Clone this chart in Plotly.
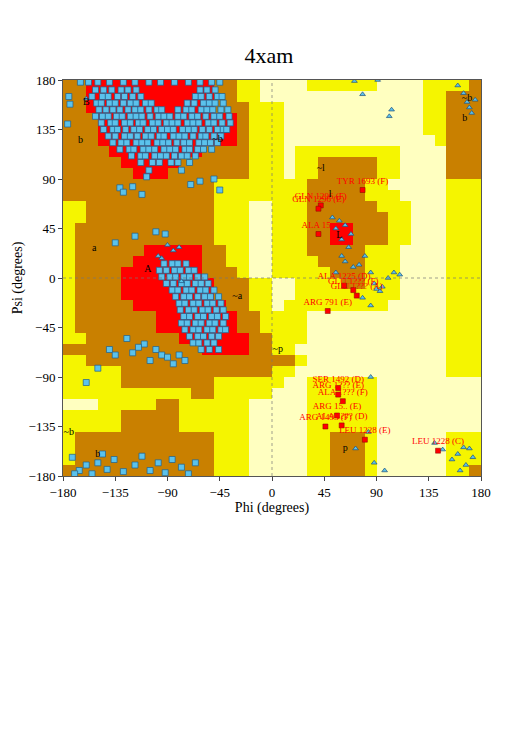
import plotly.graph_objects as go

# Region map, 10-degree cells, rows from psi 180 (top) to -180; P pale, Y yellow, B brown, R red
region_rows = [
    "BB"+"R"*11+"BB"+"YY"+"PPPP"+"YYYYYY"+"PPPP"+"YYYY"+"B",
    "BB"+"R"*11+"BB"+"YY"+"P"*14+"YY"+"BBB",
    "BB"+"R"*11+"BBB"+"YYY"+"P"*12+"YY"+"BBB",
    "BBB"+"R"*12+"B"+"YYY"+"P"*12+"YY"+"BBB",
    "BBB"+"R"*12+"B"+"YYY"+"P"*12+"YY"+"BBB",
    "BBB"+"R"*12+"B"+"YYY"+"P"*13+"Y"+"BBB",
    "BBBB"+"R"*8+"BBBB"+"YYY"+"P"+"Y"*9+"P"*4+"BBB",
    "BBBBB"+"R"*5+"B"*6+"YYY"+"P"+"YY"+"B"*5+"YY"+"P"*4+"BBB",
    "B"*6+"RRR"+"B"*7+"YYY"+"P"+"YY"+"B"*5+"YY"+"P"*4+"BBB",
    "B"*13+"Y"*7+"Y"+"B"*5+"YY"+"P"*5+"YYY",
    "B"*13+"Y"*7+"Y"+"B"*5+"YYY"+"P"*4+"YYY",
    "YY"+"B"*11+"YYY"+"PP"+"YYY"+"B"*6+"YYY"+"PPP"+"YYY",
    "YY"+"B"*11+"YYY"+"PP"+"YYY"+"B"*7+"YY"+"PPP"+"YYY",
    "Y"+"B"*12+"YYY"+"PP"+"YYY"+"BB"+"RR"+"BBB"+"YY"+"PPP"+"YYY",
    "Y"+"B"*12+"YYY"+"PP"+"YYY"+"BB"+"RR"+"BBB"+"YY"+"PPP"+"YYY",
    "Y"+"B"*6+"R"*5+"BB"+"YY"+"PP"+"YYY"+"B"*5+"YYY"+"P"*4+"YYY",
    "Y"+"B"*5+"R"*6+"BB"+"YY"+"PP"+"YYYY"+"B"*4+"YYY"+"P"*4+"YYY",
    "Y"+"B"*4+"R"*7+"BBB"+"Y"+"PP"+"YYYYY"+"BBB"+"YYY"+"P"*4+"YYY",
    "Y"+"BBBB"+"R"*8+"BBB"+"YY"+"PP"+"YYYY"+"BB"+"YYY"+"P"*4+"YYY",
    "Y"+"BBBB"+"R"*8+"BBB"+"YY"+"PP"+"Y"*9+"P"*4+"YYY",
    "Y"+"BBBBB"+"R"*8+"BB"+"YY"+"P"+"Y"*9+"P"*5+"YYY",
    "Y"+"B"*7+"R"*7+"BB"+"YYYY"+"P"*12+"YYY",
    "Y"+"B"*7+"R"*7+"BB"+"YYYY"+"P"*12+"YYY",
    "YY"+"B"*8+"R"*6+"BB"+"YYY"+"P"*12+"YYY",
    "B"*12+"R"*4+"BB"+"YY"+"P"*13+"YYY",
    "YY"+"B"*18+"Y"+"P"*12+"YYY",
    "Y"*5+"B"*13+"YY"+"P"*13+"YYY",
    "Y"*5+"B"*8+"Y"*6+"PP"+"Y"*6+"P"*9,
    "Y"*11+"BB"+"Y"*5+"PPP"+"Y"*6+"P"*9,
    "PPP"+"Y"*5+"BB"+"Y"*6+"P"*5+"Y"*6+"P"*9,
    "Y"*5+"B"*5+"Y"*6+"P"*5+"Y"*6+"P"*9,
    "Y"*5+"B"*5+"Y"*6+"P"*5+"Y"*6+"P"*9,
    "Y"+"B"*12+"YYY"+"P"*5+"YY"+"BBB"+"Y"+"P"*6+"YYY",
    "Y"+"B"*12+"YYY"+"P"*5+"YY"+"BBB"+"Y"+"P"*6+"YYY",
    "Y"+"B"*12+"YYY"+"P"*5+"YY"+"BBB"+"Y"+"P"*6+"YYY",
    "B"*13+"YYY"+"P"*5+"YY"+"BBB"+"Y"+"P"*6+"YY"+"B",
]
cell_phi = [-175 + 10*i for i in range(36)]
cell_psi = [175 - 10*i for i in range(36)]
code = {"P": 0, "Y": 1, "B": 2, "R": 3}
z = [[code[c] for c in row] for row in region_rows]

# Non-Gly residues (phi lists per psi row)
beta_rows = {
    178: [-165,-158,-150,-140,-128,-118,-106,-96,-84,-72,-62,-52,-45],
    171: [-152,-145,-138,-130,-124,-117,-62,-56,-49],
    165: [-155,-146,-141,-133,-127,-120,-113,-66,-61,-54,-47,-43],
    159: [-151,-147,-140,-135,-128,-122,-117,-109,-104,-73,-67,-59,-54,-49,-42],
    153: [-149,-143,-137,-131,-124,-118,-113,-106,-99,-95,-81,-74,-69,-61,-56,-51,-44,-38],
    147: [-152,-146,-141,-134,-129,-122,-117,-112,-105,-98,-93,-88,-81,-76,-69,-64,-57,-50,-45,-37],
    141: [-147,-139,-135,-127,-122,-115,-111,-103,-98,-91,-86,-81,-73,-68,-63,-55,-50,-43,-36],
    135: [-145,-137,-133,-126,-119,-114,-107,-102,-95,-90,-85,-77,-72,-67,-60,-54,-47,-42,-39],
    129: [-141,-135,-127,-122,-116,-109,-104,-97,-93,-85,-80,-75,-68,-61,-57,-50,-44],
    123: [-137,-130,-125,-117,-112,-107,-99,-94,-89,-82,-76,-71,-63,-58,-53,-47],
    117: [-131,-123,-119,-111,-106,-101,-93,-88,-83,-75,-71,-64,-59,-52],
    111: [-121,-113,-109,-101,-96,-91,-84,-78,-73,-66],
    105: [-113,-103,-97,-87,-81,-71],
    98: [-106,-78],
}
alpha_rows = {
    13: [-93,-86,-81,-74],
    7: [-97,-91,-84,-79,-72,-67],
    1: [-95,-88,-83,-76,-71,-64,-58],
    -5: [-91,-85,-78,-73,-66,-61,-55],
    -11: [-86,-81,-74,-69,-62,-57,-50],
    -17: [-83,-76,-71,-64,-58,-53,-46],
    -23: [-80,-75,-68,-63,-56,-51,-44],
    -29: [-79,-72,-67,-60,-55,-48,-42],
    -35: [-76,-71,-64,-59,-52,-47,-40],
    -41: [-78,-73,-66,-61,-54,-49,-42],
    -47: [-75,-68,-63,-56,-51,-44,-40],
    -53: [-71,-64,-59,-52,-46],
    -59: [-68,-63,-56,-50],
    -65: [-61,-54,-46],
}
scatter_phi = [-175,-174,-176,-120,-112,-131,-128,-108,-70,-62,-50,-45,-100,-92,-118,-135,
               -110,-115,-125,-100,-95,-105,-90,-80,-85,-75,-140,-135,-120,-150,-160,
               -172,-166,-160,-155,-150,-142,-136,-128,-118,-112,-105,-98,-92,-86,-78,-72,-66,-170,-146]
scatter_psi = [165,158,140,83,76,82,78,92,85,88,90,80,42,40,38,32,
               -60,-63,-55,-65,-70,-75,-72,-70,-78,-75,-65,-70,-68,-82,-95,
               -163,-175,-170,-178,-168,-174,-165,-176,-170,-162,-175,-168,-177,-165,-172,-178,-168,-178,-160]
gen_phi = []
gen_psi = []
for rows in (beta_rows, alpha_rows):
    for ps, phis in rows.items():
        gen_phi += phis
        gen_psi += [ps]*len(phis)
gen_phi += scatter_phi
gen_psi += scatter_psi

# Glycines (triangles)
gly_phi = [71,91,78,103,101,160,165,168,175,172,170,52,58,63,55,68,60,66,60,63,70,55,75,80,85,88,90,93,78,85,95,
           100,105,110,85,83,88,97,72,140,147,160,165,170,173,155,162,167,-95,-98,-90,-85,-80,-160,-78]
gly_psi = [179,180,167,153,147,175,168,160,162,150,155,55,52,48,45,40,35,28,20,15,10,5,12,20,5,-5,-10,-12,-18,-25,-8,
           0,5,3,-90,-140,-168,-175,-155,-150,-156,-160,-154,-155,-163,-165,-175,-170,18,20,30,25,28,163,-3]

# Outliers (red squares with labels)
out_phi = [78,42,40,40,62,70,73,48,57,57,61,56,46,60,80,143]
out_psi = [80,66,63,40,-7,-11,-16,-30,-100,-106,-112,-125,-135,-134,-147,-157]
out_lab = ["TYR 1693 (F)","GLN 1296 (F)","GLN 1296 (E)","ALA 15..","ALA 1225 (D)","GLU 1??? (F)","GLU 1??? (A)",
           "ARG 791 (E)","SER 1492 (D)","ARG 1??? (E)","ALA 1??? (F)","ARG 15.. (E)","ARG 1493 (F)","ALA 1??? (D)",
           "LEU 1228 (E)","LEU 1228 (C)"]

region_labels = ["B","b","~b","~b","a","A","~a","l","~l","L","~b","b","p","b","~p"]
region_lab_phi = [-160,-165,-47,168,-153,-107,-30,50,42,58,-175,-150,63,166,5]
region_lab_psi = [160,125,126,163,27,8,-17,76,100,39,-140,-160,-155,145,-65]

fig = go.Figure()
fig.add_trace(go.Heatmap(x=cell_phi, y=cell_psi, z=z, zmin=0, zmax=3, showscale=False, hoverinfo="skip",
    colorscale=[[0,"#ffffc0"],[0.25,"#ffffc0"],[0.25,"#f5f500"],[0.5,"#f5f500"],
                [0.5,"#c98000"],[0.75,"#c98000"],[0.75,"#ff0000"],[1,"#ff0000"]]))
fig.add_trace(go.Scatter(x=gen_phi, y=gen_psi, mode="markers",
    marker=dict(symbol="square", size=6, color="#5bc2ec", line=dict(color="#1f5f8a", width=0.7))))
fig.add_trace(go.Scatter(x=gly_phi, y=gly_psi, mode="markers",
    marker=dict(symbol="triangle-up", size=5, color="#5bc2ec", line=dict(color="#1f4f7a", width=0.7))))
fig.add_trace(go.Scatter(x=out_phi, y=out_psi, mode="markers+text", text=out_lab, textposition="top center",
    textfont=dict(family="Liberation Serif", size=9, color="#ff0000"),
    marker=dict(symbol="square", size=5, color="#ff0000", line=dict(color="#800000", width=0.5))))
fig.add_trace(go.Scatter(x=region_lab_phi, y=region_lab_psi, mode="text", text=region_labels,
    textfont=dict(family="Liberation Serif", size=10, color="black")))

ticks = [-180,-135,-90,-45,0,45,90,135,180]
axis = dict(range=[-180,180], tickvals=ticks, ticks="outside", ticklen=4, showgrid=False, zeroline=False,
            showline=True, linecolor="#555", mirror=True, automargin=False,
            tickfont=dict(family="Liberation Serif", size=13, color="black"))
fig.update_layout(width=522, height=732, margin=dict(l=55, r=49, t=72, b=264),
    paper_bgcolor="white", plot_bgcolor="white", showlegend=False,
    title=dict(text="4xam", x=0.5, xanchor="center", y=0.935, yanchor="middle",
               font=dict(family="Liberation Serif", size=22, color="black")),
    xaxis=dict(axis, title=dict(text="Phi (degrees)", font=dict(family="Liberation Serif", size=14, color="black"), standoff=2)),
    yaxis=dict(axis, title=dict(text="Psi (degrees)", font=dict(family="Liberation Serif", size=14, color="black"), standoff=2)))
fig.add_shape(type="line", x0=0, x1=0, y0=-180, y1=180, line=dict(color="#777", width=0.7, dash="dot"))
fig.add_shape(type="line", x0=-180, x1=180, y0=0, y1=0, line=dict(color="#777", width=0.7, dash="dot"))
fig.write_html("out.html")
